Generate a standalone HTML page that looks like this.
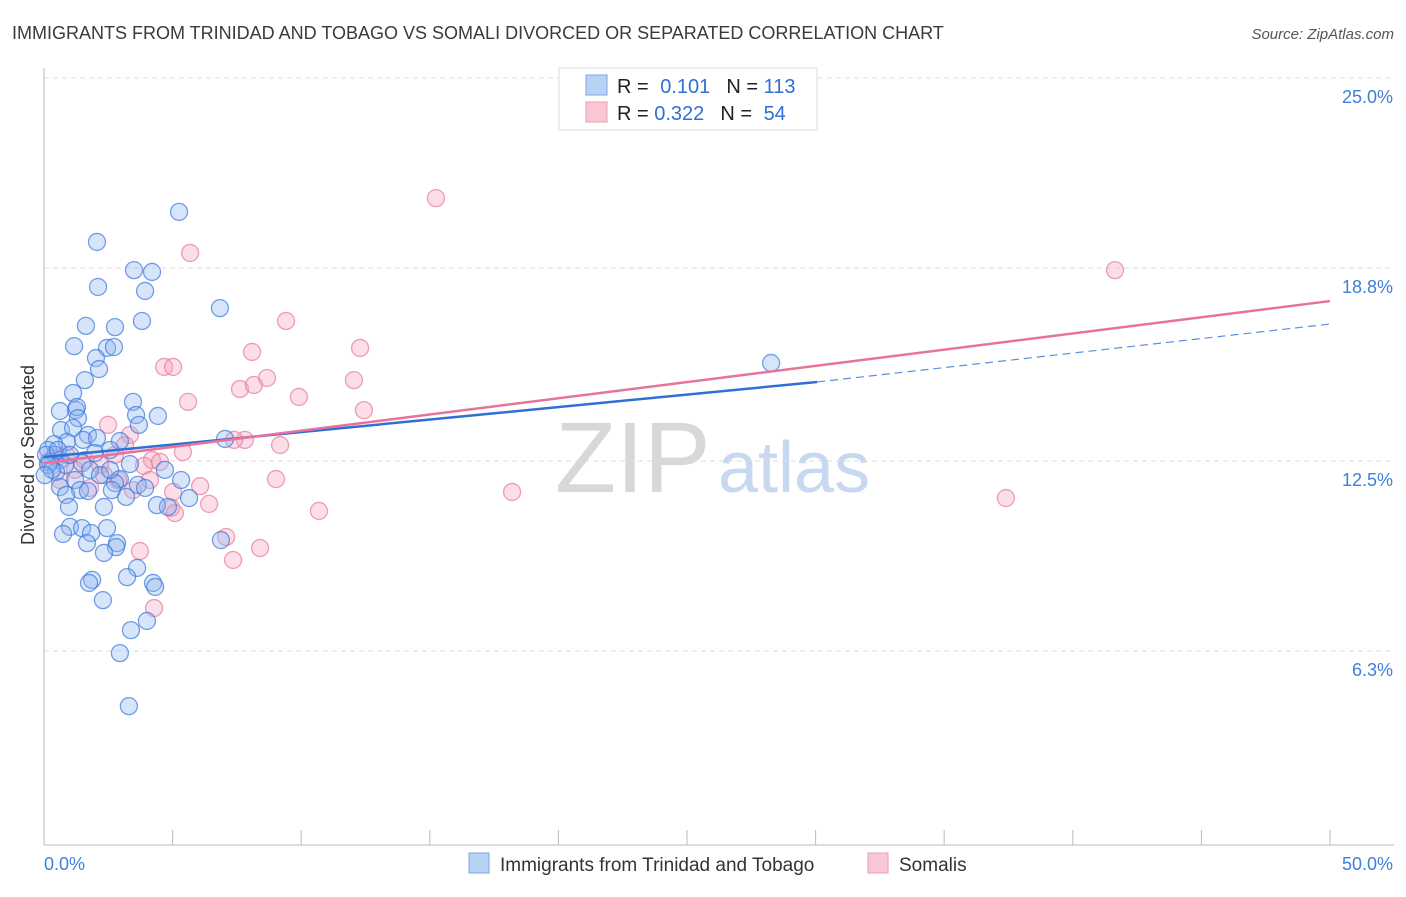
<!DOCTYPE html>
<html><head><meta charset="utf-8"><style>
body{margin:0;background:#fff;font-family:"Liberation Sans",sans-serif;}
svg text{font-family:"Liberation Sans",sans-serif;}
</style></head><body>
<svg id="c" width="1406" height="892" xmlns="http://www.w3.org/2000/svg">
<text x="12" y="39" font-size="18" fill="#3a3a3a">IMMIGRANTS FROM TRINIDAD AND TOBAGO VS SOMALI DIVORCED OR SEPARATED CORRELATION CHART</text>
<text x="1394" y="39" font-size="15" fill="#555" text-anchor="end" font-style="italic">Source: ZipAtlas.com</text>
<text x="555" y="492" font-size="100" fill="#d8d8d8" font-family="Liberation Serif">ZIP</text>
<text x="718" y="492" font-size="72" fill="#c8d8f0">atlas</text>
<g id="grid"></g>
<g id="pts"></g>
<g id="lines"></g>
<text transform="translate(34,455) rotate(-90)" font-size="18" fill="#333" text-anchor="middle">Divorced or Separated</text>
<g>
<rect x="559" y="68" width="258" height="62" fill="#fff" stroke="#ddd"/>
<rect x="586" y="75" width="21" height="20" fill="#b8d2f4" stroke="#7aa6e6"/>
<rect x="586" y="102" width="21" height="20" fill="#f9c6d4" stroke="#ee9db6"/>
<text x="617" y="93" font-size="20" fill="#222">R = <tspan fill="#2f6fd6" dx="6">0.101</tspan><tspan dx="16" fill="#222">N = </tspan><tspan fill="#2f6fd6">113</tspan></text>
<text x="617" y="120" font-size="20" fill="#222">R = <tspan fill="#2f6fd6">0.322</tspan><tspan dx="16" fill="#222">N = </tspan><tspan fill="#2f6fd6" dx="6">54</tspan></text>
</g>
<g>
<rect x="469" y="853" width="20" height="20" fill="#b8d2f4" stroke="#7aa6e6"/>
<text x="500" y="871" font-size="19" fill="#333">Immigrants from Trinidad and Tobago</text>
<rect x="868" y="853" width="20" height="20" fill="#f9c6d4" stroke="#ee9db6"/>
<text x="899" y="871" font-size="19" fill="#333">Somalis</text>
</g>
</svg>
<script>
const yTicks=[25.0,18.8,12.5,6.3];
const yTickLabels=["25.0%","18.8%","12.5%","6.3%"];
const xTicks=[0,5,10,15,20,25,30,35,40,45,50];
const xEndLabels=["0.0%","50.0%"];
const blueX=[5.25,2.06,3.50,4.20,2.10,3.93,6.84,1.63,2.76,3.81,1.17,2.45,2.72,2.02,2.14,1.59,1.13,3.46,1.24,0.62,1.28,3.58,4.43,1.32,3.69,0.66,1.13,1.71,0.89,1.52,2.06,2.95,7.04,0.39,0.16,0.43,2.57,1.98,0.62,0.23,0.82,1.48,3.34,4.70,1.79,0.47,2.95,5.33,1.21,0.62,1.40,1.71,2.76,3.65,3.93,2.64,3.19,5.64,0.86,4.39,4.82,0.97,2.33,1.01,1.48,2.45,1.83,0.74,6.88,1.67,2.84,2.80,2.33,3.62,3.23,1.87,1.75,4.24,4.32,2.29,3.38,4.00,2.95,3.30,28.27,0.08,0.16,0.31,0.03,0.54,1.01,2.18,2.57];
const blueY=[20.63,19.65,18.73,18.67,18.18,18.05,17.49,16.91,16.87,17.07,16.25,16.19,16.22,15.86,15.50,15.14,14.72,14.43,14.16,14.13,14.26,14.00,13.97,13.90,13.68,13.51,13.58,13.35,13.12,13.19,13.25,13.15,13.22,13.05,12.86,12.70,12.86,12.76,12.53,12.47,12.37,12.43,12.40,12.21,12.21,12.14,11.91,11.88,11.88,11.65,11.55,11.52,11.78,11.72,11.62,11.55,11.33,11.29,11.39,11.06,11.00,11.00,11.00,10.35,10.31,10.31,10.15,10.12,9.92,9.82,9.82,9.69,9.50,9.01,8.71,8.62,8.52,8.52,8.39,7.96,6.98,7.28,6.23,4.50,15.70,12.70,12.37,12.21,12.04,12.86,12.70,12.04,12.21];
const pinkX=[15.24,5.68,9.41,8.09,12.29,4.67,5.02,8.67,12.05,7.62,8.16,9.91,5.60,12.44,2.49,3.34,7.81,7.39,9.18,5.40,4.20,2.18,0.86,3.89,2.33,9.02,4.12,6.07,2.88,3.46,5.02,6.42,4.94,5.09,10.69,7.08,8.40,3.73,7.35,4.28,18.20,37.40,41.64,0.47,0.16,1.79,1.21,0.62,3.15,4.51,2.76,1.59];
const pinkY=[21.08,19.29,17.07,16.06,16.19,15.57,15.57,15.21,15.14,14.85,14.98,14.59,14.43,14.16,13.68,13.35,13.19,13.19,13.02,12.79,12.53,12.37,12.70,12.34,12.04,11.91,11.88,11.68,11.88,11.55,11.49,11.10,10.97,10.80,10.87,10.02,9.66,9.56,9.27,7.70,11.49,11.29,18.73,12.60,12.47,11.62,12.21,11.88,13.02,12.47,12.70,12.53];
const blueTrendX=[0,30.06,50];
const blueTrendY=[12.63,15.08,16.97];
const pinkTrendX=[0,50];
const pinkTrendY=[12.43,17.72];
const NS="http://www.w3.org/2000/svg";
const X0=44,X1=1330,Y0=844,PXPER=191.5/6.25;
function sx(v){return X0+(X1-X0)*v/50;}
function sy(v){return Y0-v*PXPER;}
function mk(t,p,a){const e=document.createElementNS(NS,t);for(const k in a)e.setAttribute(k,a[k]);p.appendChild(e);return e;}
const grid=document.getElementById('grid');
yTicks.forEach((t,i)=>{
  const l=mk('line',grid,{x1:X0,x2:1394,y1:sy(t),y2:sy(t),stroke:'#ddd','stroke-dasharray':'5,4'});
  
  
  const tx=mk('text',grid,{x:1393,y:sy(t)+25,'font-size':18,fill:'#3f7fdc','text-anchor':'end'});
  tx.textContent=yTickLabels[i];
  
  
});
const ax=mk('line',grid,{x1:X0,x2:1394,y1:845,y2:845,stroke:'#bbb'});


const yax=mk('line',grid,{x1:X0,x2:X0,y1:68,y2:845,stroke:'#bbb'});


xTicks.forEach(t=>{
  if(t===0)return;
  const l=mk('line',grid,{x1:sx(t),x2:sx(t),y1:830,y2:845,stroke:'#bbb'});
  
  
});
const xl0=mk('text',grid,{x:44,y:870,'font-size':18,fill:'#3f7fdc'});
xl0.textContent=xEndLabels[0];


const xl1=mk('text',grid,{x:1393,y:870,'font-size':18,fill:'#3f7fdc','text-anchor':'end'});
xl1.textContent=xEndLabels[1];


const pts=document.getElementById('pts');
pinkX.forEach((v,i)=>{
  const c=mk('circle',pts,{cx:sx(v),cy:sy(pinkY[i]),r:8.5,fill:'rgba(244,160,186,0.35)',stroke:'rgba(232,120,155,0.7)','stroke-width':1.3});
  
  
});
blueX.forEach((v,i)=>{
  const c=mk('circle',pts,{cx:sx(v),cy:sy(blueY[i]),r:8.5,fill:'rgba(140,180,240,0.35)',stroke:'rgba(60,120,220,0.7)','stroke-width':1.3});
  
  
});
const lines=document.getElementById('lines');
const bl=mk('line',lines,{x1:sx(blueTrendX[0]),y1:sy(blueTrendY[0]),x2:sx(blueTrendX[1]),y2:sy(blueTrendY[1]),stroke:'#2f6fd6','stroke-width':2.5});


const bd=mk('line',lines,{x1:sx(blueTrendX[1]),y1:sy(blueTrendY[1]),x2:sx(blueTrendX[2]),y2:sy(blueTrendY[2]),stroke:'#5b8fdd','stroke-width':1.2,'stroke-dasharray':'8,5'});


const pl=mk('line',lines,{x1:sx(pinkTrendX[0]),y1:sy(pinkTrendY[0]),x2:sx(pinkTrendX[1]),y2:sy(pinkTrendY[1]),stroke:'#e8739a','stroke-width':2.5});


</script>
</body></html>
